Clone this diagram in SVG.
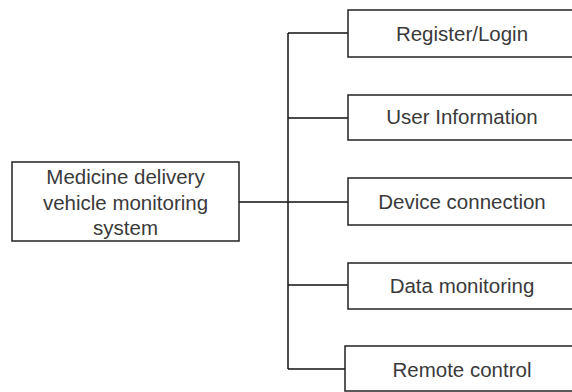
<svg xmlns="http://www.w3.org/2000/svg" width="572" height="392" viewBox="0 0 572 392">
  <style>
    .box { fill: #ffffff; stroke: #222222; stroke-width: 1.5; }
    .wire { fill: none; stroke: #111111; stroke-width: 1.5; }
    .label { font-family: "Liberation Sans", Arial, sans-serif; font-size: 20.5px; fill: #3a3a3a; text-anchor: middle; }
  </style>
  <rect width="572" height="392" fill="#ffffff"/>

  <!-- tree connectors -->
  <g id="connectors">
    <path class="wire" d="M239 202 H288"/>
    <path class="wire" d="M288 33 V369"/>
    <path class="wire" d="M288 33 H348"/>
    <path class="wire" d="M288 118 H348"/>
    <path class="wire" d="M288 202 H348"/>
    <path class="wire" d="M288 285 H348"/>
    <path class="wire" d="M288 369 H345"/>
  </g>

  <!-- root node -->
  <g id="root">
    <rect class="box" x="12" y="162" width="227" height="79"/>
    <text class="label" x="125.5" y="184">Medicine delivery</text>
    <text class="label" x="125.5" y="210">vehicle monitoring</text>
    <text class="label" x="125.5" y="235">system</text>
  </g>

  <!-- function modules -->
  <g id="register-login">
    <rect class="box" x="348" y="10" width="228" height="47"/>
    <text class="label" x="462" y="41">Register/Login</text>
  </g>
  <g id="user-information">
    <rect class="box" x="348" y="95" width="228" height="45"/>
    <text class="label" x="462" y="124">User Information</text>
  </g>
  <g id="device-connection">
    <rect class="box" x="348" y="178" width="228" height="47"/>
    <text class="label" x="462" y="209">Device connection</text>
  </g>
  <g id="data-monitoring">
    <rect class="box" x="348" y="263" width="228" height="46"/>
    <text class="label" x="462" y="292.5">Data monitoring</text>
  </g>
  <g id="remote-control">
    <rect class="box" x="345" y="346" width="231" height="45"/>
    <text class="label" x="462" y="376.5">Remote control</text>
  </g>
</svg>
